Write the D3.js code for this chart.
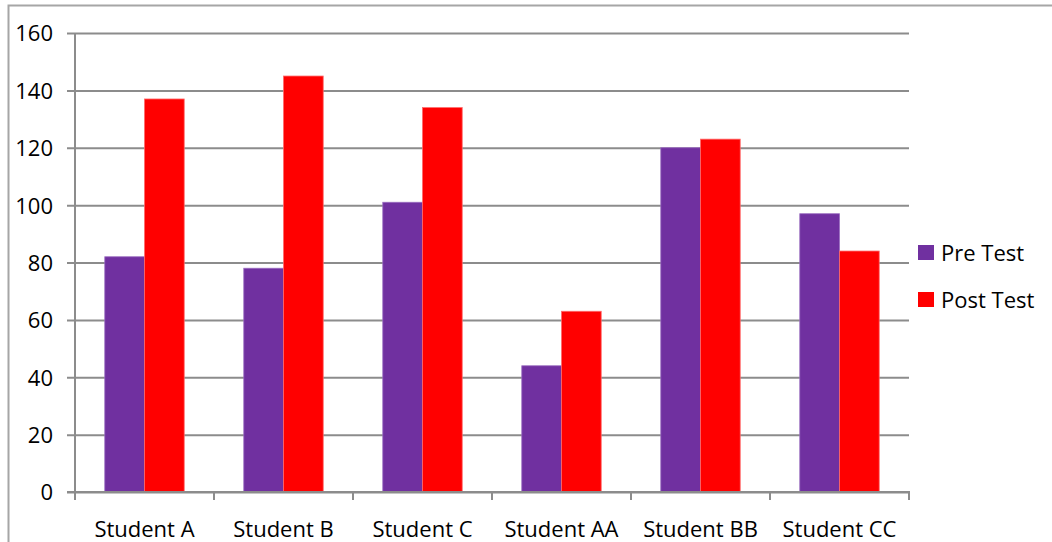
<!DOCTYPE html>
<html>
<head>
<meta charset="utf-8">
<script src="https://cdn.jsdelivr.net/npm/d3@7"></script>
<style>
  html, body { margin: 0; padding: 0; background: #fff; }
  svg { display: block; }
  text { font-family: "Open Sans", "Noto Sans", sans-serif; fill: #000; }
</style>
</head>
<body>
<svg id="chart" width="1052" height="542"></svg>
<script>
// Scores per student, before and after
const categories = ["Student A", "Student B", "Student C", "Student AA", "Student BB", "Student CC"];
const preTest = [82, 78, 101, 44, 120, 97];
const postTest = [137, 145, 134, 63, 123, 84];
const seriesNames = ["Pre Test", "Post Test"];
const seriesColors = ["#7030A0", "#FF0000"];
const yTicks = [0, 20, 40, 60, 80, 100, 120, 140, 160];

const svg = d3.select("#chart");
const W = 1052, H = 542;
const plot = { left: 75, right: 909, top: 33, bottom: 492 };
const fontSize = "22px";

// Outer chart frame
svg.append("rect")
  .attr("x", 8.5).attr("y", 5.5)
  .attr("width", W + 20).attr("height", H + 20)
  .attr("fill", "none").attr("stroke", "#a6a6a6").attr("stroke-width", 2);

const x = d3.scaleBand().domain(categories).range([plot.left, plot.right]);
const inner = d3.scaleBand().domain(seriesNames).range([0, x.bandwidth()])
  .paddingInner(0).paddingOuter(0.75);
const y = d3.scaleLinear().domain([0, 160]).range([plot.bottom, plot.top]);

// Horizontal gridlines with ticks on the value axis
const yAxis = d3.axisLeft(y).tickValues(yTicks).tickSize(plot.right - plot.left + 8).tickFormat(d3.format("d"));
const gy = svg.append("g")
  .attr("transform", `translate(${plot.right},0)`)
  .call(yAxis);
gy.select(".domain").remove();
gy.selectAll(".tick line").attr("stroke", "#8c8c8c").attr("stroke-width", 2);
gy.selectAll(".tick text")
  .attr("x", -(plot.right - plot.left) - 22)
  .attr("dy", "0.36em")
  .style("font-size", fontSize);

// Bars
const data = categories.map((c, i) => ({ cat: c, values: [preTest[i], postTest[i]] }));
const groups = svg.append("g").selectAll("g").data(data).join("g")
  .attr("transform", d => `translate(${x(d.cat)},0)`);
groups.selectAll("rect")
  .data(d => d.values.map((v, j) => ({ v, j })))
  .join("rect")
  .attr("x", d => inner(seriesNames[d.j]))
  .attr("y", d => y(d.v))
  .attr("width", inner.bandwidth())
  .attr("height", d => y(0) - y(d.v))
  .attr("fill", d => seriesColors[d.j])
  .attr("stroke", d => d.j === 0 ? "#9a6cc0" : "#ff6a6a")
  .attr("stroke-width", 0.8);

// Value axis line
svg.append("line")
  .attr("x1", plot.left).attr("x2", plot.left)
  .attr("y1", plot.top).attr("y2", plot.bottom)
  .attr("stroke", "#8c8c8c").attr("stroke-width", 2);

// Category axis
const gx = svg.append("g").attr("transform", `translate(0,${plot.bottom})`);
gx.append("line")
  .attr("x1", plot.left - 8).attr("x2", plot.right + 1)
  .attr("stroke", "#8c8c8c").attr("stroke-width", 2);
const boundaries = categories.map(c => x(c)).concat([plot.right]);
gx.selectAll("line.tick").data(boundaries).join("line")
  .attr("class", "tick")
  .attr("x1", d => d).attr("x2", d => d)
  .attr("y1", 0).attr("y2", 8)
  .attr("stroke", "#8c8c8c").attr("stroke-width", 2);
gx.selectAll("text").data(categories).join("text")
  .attr("x", d => x(d) + x.bandwidth() / 2)
  .attr("y", 45)
  .attr("text-anchor", "middle")
  .style("font-size", fontSize)
  .text(d => d);

// Legend
const legend = svg.append("g").attr("transform", "translate(918,245)");
const items = legend.selectAll("g").data(seriesNames).join("g")
  .attr("transform", (d, i) => `translate(0,${i * 47})`);
items.append("rect")
  .attr("width", 16).attr("height", 15)
  .attr("fill", (d, i) => seriesColors[i]);
items.append("text")
  .attr("x", 23).attr("y", 16)
  .style("font-size", fontSize)
  .text(d => d);
</script>
</body>
</html>
